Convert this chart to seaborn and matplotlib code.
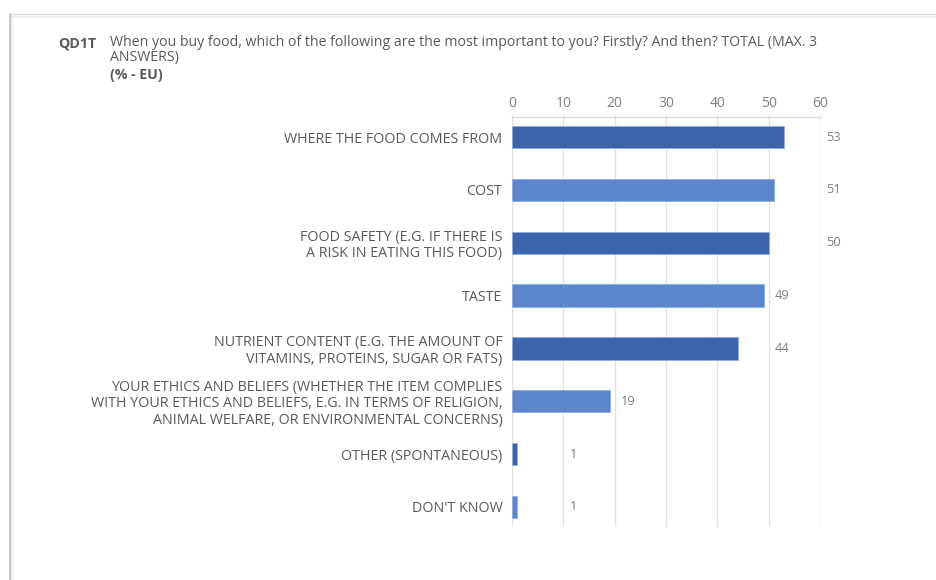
import numpy as np
import pandas as pd
import matplotlib
matplotlib.use("Agg")
import matplotlib.pyplot as plt
from matplotlib.lines import Line2D
import seaborn as sns

categories = [
    "WHERE THE FOOD COMES FROM",
    "COST",
    "FOOD SAFETY (E.G. IF THERE IS\nA RISK IN EATING THIS FOOD)",
    "TASTE",
    "NUTRIENT CONTENT (E.G. THE AMOUNT OF\nVITAMINS, PROTEINS, SUGAR OR FATS)",
    "YOUR ETHICS AND BELIEFS (WHETHER THE ITEM COMPLIES\nWITH YOUR ETHICS AND BELIEFS, E.G. IN TERMS OF RELIGION,\nANIMAL WELFARE, OR ENVIRONMENTAL CONCERNS)",
    "OTHER (SPONTANEOUS)",
    "DON'T KNOW",
]
values = [53, 51, 50, 49, 44, 19, 1, 1]
x_ticks = [0, 10, 20, 30, 40, 50, 60]

title_code = "QD1T"
title_line1 = ("When you buy food, which of the following are the most important to you? "
               "Firstly? And then? TOTAL (MAX. 3")
title_line2 = "ANSWERS)"
subtitle = "(% - EU)"

dark = "#3C64AD"
light = "#5B86CD"
colors = [dark if i % 2 == 0 else light for i in range(len(categories))]

sns.set_style("white")
plt.rcParams['font.family'] = ['Open Sans', 'DejaVu Sans']

W, H = 937, 580
fig = plt.figure(figsize=(W / 100, H / 100), dpi=100)
fig.patch.set_facecolor("white")

x0, x1 = 512, 820
y0, y1 = 117, 527
ax = fig.add_axes([x0 / W, 1 - y1 / H, (x1 - x0) / W, (y1 - y0) / H])

df = pd.DataFrame({"cat": categories, "val": values})
sns.barplot(data=df, y="cat", x="val", hue="cat", palette=colors, legend=False,
            orient="h", width=0.42, ax=ax, edgecolor="#8FAEE0", linewidth=0.6,
            saturation=1)

ax.set_xlim(0, 60)
ax.set_ylim(7.38, -0.38)
ax.set_xticks(x_ticks)
ax.xaxis.tick_top()
ax.tick_params(axis="x", which="both", top=True, bottom=False, length=3,
               color="#E2D9D9", labelsize=10, labelcolor="#7F7F7F", pad=3,
               direction="inout")
ax.tick_params(axis="y", left=False, length=0, labelsize=10.3,
               labelcolor="#595959", pad=7)
ax.set_xlabel("")
ax.set_ylabel("")
for lab in ax.get_yticklabels():
    lab.set_linespacing(1.12)

ax.grid(axis="x", color="#E8E0E0", linewidth=1)
ax.set_axisbelow(True)
for s in ["right", "bottom", "left"]:
    ax.spines[s].set_visible(False)
ax.spines["top"].set_color("#E2D9D9")
ax.spines["top"].set_linewidth(1)

for i, v in enumerate(values):
    pos = (np.floor(v / 10) + 1) * 10 + 1.2
    ax.text(pos, i, str(v), va="center", ha="left", fontsize=9.3,
            color="#808080", clip_on=False)

fig.text(58 / W, 1 - 43 / H, title_code, fontsize=10.2, fontweight="bold",
         color="#595959", va="center", ha="left")
fig.text(110 / W, 1 - 43 / H, title_line1, fontsize=10.2, color="#595959",
         va="center", ha="left")
fig.text(110 / W, 1 - 58 / H, title_line2, fontsize=10.2, color="#595959",
         va="center", ha="left")
fig.text(110 / W, 1 - 75 / H, subtitle, fontsize=10.2, fontweight="bold",
         color="#595959", va="center", ha="left")

for off, a in [(0, 0.55), (1.5, 0.25), (3, 0.1)]:
    fig.add_artist(Line2D([(10 + off) / W, (10 + off) / W], [0, 1 - (14 + off) / H],
                          transform=fig.transFigure, color="#9A9A9A", alpha=a, lw=1.2))
    fig.add_artist(Line2D([(10 + off) / W, 1], [1 - (14 + off) / H, 1 - (14 + off) / H],
                          transform=fig.transFigure, color="#BDBDBD", alpha=a, lw=1.0))

fig.savefig("out.png", dpi=100, facecolor="white")
